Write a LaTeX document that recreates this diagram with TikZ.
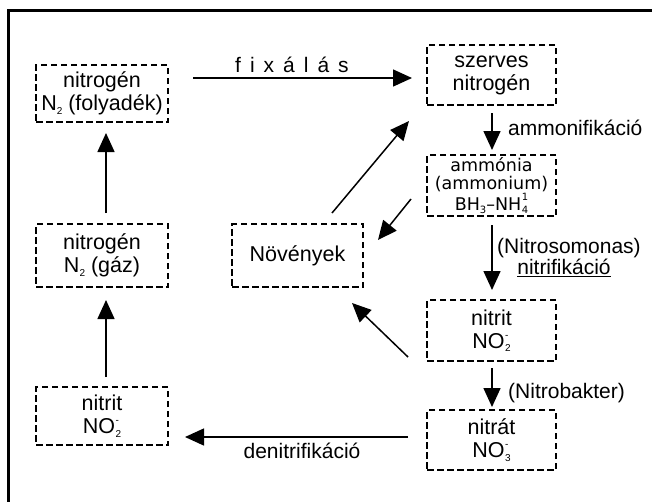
\documentclass[tikz,border=0pt]{standalone}
\usepackage{fontspec}
\setmainfont{Liberation Sans}
\newfontfamily\boxfont{DejaVu Sans}
\usetikzlibrary{arrows.meta}
\newcommand\mysub[1]{\raisebox{-3.5pt}{\fontsize{10}{10}\selectfont #1}}
\newcommand\mysupsub[2]{\hspace{0.6pt}\makebox[0pt][l]{\raisebox{10pt}{\fontsize{10}{10}\selectfont #1}}\mysub{#2}}
\tikzset{
  box/.style={draw, dash pattern=on 6.5pt off 3.5pt, line width=1.2pt, inner sep=0pt,
    align=center, font=\fontsize{21.5}{23}\selectfont, minimum width=129pt, minimum height=61pt},
  arr/.style={line width=1.5pt, -{Triangle[length=19pt,width=17pt]}},
  lbl/.style={font=\fontsize{21}{23}\selectfont, inner sep=0pt},
}
\begin{document}
\begin{tikzpicture}[x=1pt,y=-1pt]
\useasboundingbox (0,0) rectangle (652,501);
\begin{scope}
\clip (0,0) rectangle (652,501);
\draw[line width=3pt] (8,10) rectangle (720,560);
\end{scope}
% boxes
\node[box, minimum width=132pt, minimum height=57pt] (fol) at (102,93.5) {nitrogén\\N\mysub{2} (folyadék)};
\node[box, minimum height=60pt] (szer) at (491.5,75) {szerves\\nitrogén};
\node[box, font=\boxfont\fontsize{17.5}{18.5}\selectfont] (amm) at (491.5,185.5) {ammónia\\(ammonium)\\BH\mysub{3}–NH\mysupsub{1}{4}};
\node[box, minimum width=132pt, minimum height=63pt] (gaz) at (102,255.5) {nitrogén\\N\mysub{2} (gáz)};
\node[box, minimum width=131pt, minimum height=63pt] (nov) at (297.5,255.5) {Növények};
\node[box] (nitR) at (491.5,330.5) {nitrit\\NO\mysupsub{-}{2}};
\node[box, minimum height=60pt] (nitrat) at (491.5,440) {nitrát\\NO\mysupsub{-}{3}};
\node[box, minimum width=132pt, minimum height=58pt] (nitL) at (102,416) {nitrit\\NO\mysupsub{-}{2}};
% connector end points
\coordinate (fixA) at (193,78);   \coordinate (fixB) at (412,78);
\coordinate (ammA) at (492,113);  \coordinate (ammB) at (492,150);
\coordinate (nsA) at (492,225);   \coordinate (nsB) at (492,290);
\coordinate (nbA) at (492,368);   \coordinate (nbB) at (492,407);
\coordinate (denA) at (408,437);  \coordinate (denB) at (185,437);
\coordinate (luA) at (106,377);   \coordinate (luB) at (106,300);
\coordinate (ltA) at (106,213);   \coordinate (ltB) at (106,133);
\coordinate (d1A) at (332,213);   \coordinate (d1B) at (409,121);
\coordinate (d2A) at (411,199);   \coordinate (d2B) at (378,240);
\coordinate (d3A) at (408,357);   \coordinate (d3B) at (352,303);
% connectors
\draw[arr] (fixA) -- (fixB);
\draw[arr] (ammA) -- (ammB);
\draw[arr] (nsA) -- (nsB);
\draw[arr] (nbA) -- (nbB);
\draw[arr] (denA) -- (denB);
\draw[arr] (luA) -- (luB);
\draw[arr] (ltA) -- (ltB);
\draw[arr] (d1A) -- (d1B);
\draw[arr] (d2A) -- (d2B);
\draw[arr] (d3A) -- (d3B);
% labels
\node[lbl] (fixl) at (292,65) {f\hspace{9pt}i\hspace{9pt}x\hspace{9pt}á\hspace{9pt}l\hspace{9pt}á\hspace{9pt}s};
\node[lbl, anchor=west] (amml) at (508,128) {ammonifikáció};
\node[lbl, anchor=west] (nsl) at (497,248) {(Nitrosomonas)};
\node[lbl] (nitl) at (564,268) {\underline{nitrifikáció}};
\node[lbl, anchor=west] (nbl) at (508,393) {(Nitrobakter)};
\node[lbl] (denl) at (302,451) {denitrifikáció};
\end{tikzpicture}
\end{document}
